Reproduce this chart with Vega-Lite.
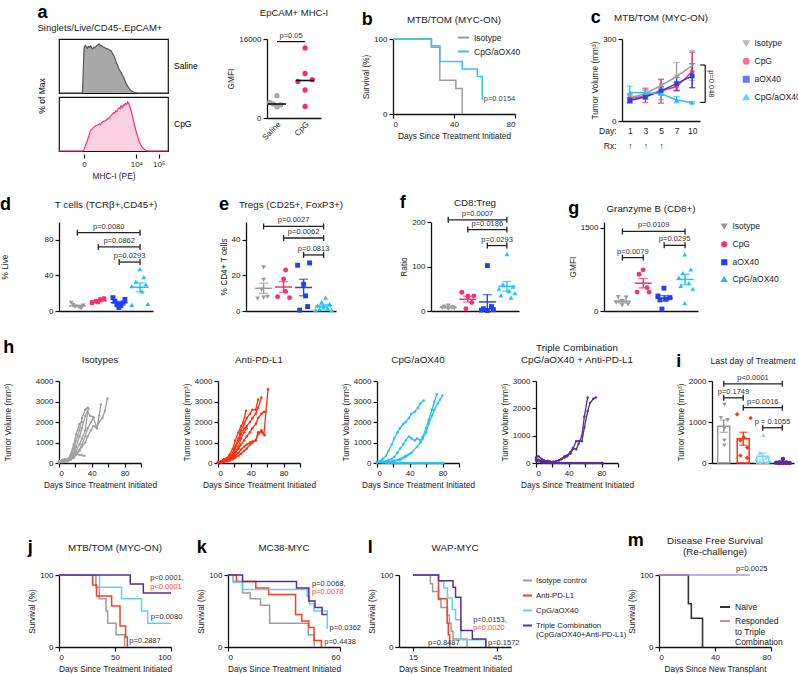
{
"$schema": "https://vega.github.io/schema/vega-lite/v6.json",
"background": "white",
"padding": {"left": 0, "top": 4, "right": 0, "bottom": 0},
"resolve": {"scale": {"color": "independent", "shape": "independent", "fill": "independent", "stroke": "independent", "xOffset": "independent"}, "legend": {"color": "independent", "shape": "independent", "fill": "independent", "stroke": "independent"}},
"config": {
  "font": "Liberation Sans",
  "numberFormat": "d",
  "view": {"stroke": null},
  "axis": {"grid": false, "labelFontSize": 8, "titleFontSize": 8.3, "titleFontWeight": "normal", "labelColor": "#222", "titleColor": "#222", "domainColor": "#111", "tickColor": "#111", "domainWidth": 1.3, "tickWidth": 1.2, "tickSize": 4, "labelPadding": 2, "titlePadding": 3, "labelFont": "Liberation Sans", "titleFont": "Liberation Sans"},
  "title": {"fontSize": 9.8, "fontWeight": "normal", "color": "#222", "offset": 12, "font": "Liberation Sans"},
  "legend": {"labelFontSize": 8.5, "labelColor": "#222", "labelFont": "Liberation Sans"},
  "header": {"labelFont": "Liberation Sans", "titleFont": "Liberation Sans"},
  "text": {"font": "Liberation Sans"}
},
"datasets": {
  "hist": [
    {"sample":"Saline","mhc":0,"pct":0},{"sample":"Saline","mhc":21.5,"pct":0},{"sample":"Saline","mhc":22.5,"pct":60},{"sample":"Saline","mhc":23,"pct":92},{"sample":"Saline","mhc":24,"pct":97},{"sample":"Saline","mhc":25,"pct":94},{"sample":"Saline","mhc":26,"pct":91},{"sample":"Saline","mhc":27,"pct":95},{"sample":"Saline","mhc":28,"pct":93},{"sample":"Saline","mhc":29,"pct":96},{"sample":"Saline","mhc":30,"pct":92},{"sample":"Saline","mhc":31,"pct":90},{"sample":"Saline","mhc":32,"pct":93},{"sample":"Saline","mhc":33,"pct":92},{"sample":"Saline","mhc":34,"pct":95},{"sample":"Saline","mhc":35,"pct":97},{"sample":"Saline","mhc":36,"pct":99},{"sample":"Saline","mhc":37,"pct":100},{"sample":"Saline","mhc":38,"pct":96},{"sample":"Saline","mhc":39,"pct":97},{"sample":"Saline","mhc":40,"pct":94},{"sample":"Saline","mhc":41.5,"pct":93},{"sample":"Saline","mhc":43,"pct":91},{"sample":"Saline","mhc":44.5,"pct":90},{"sample":"Saline","mhc":46,"pct":88},{"sample":"Saline","mhc":47.7,"pct":86},{"sample":"Saline","mhc":49,"pct":81},{"sample":"Saline","mhc":50.8,"pct":74},{"sample":"Saline","mhc":52,"pct":66},{"sample":"Saline","mhc":53.8,"pct":56},{"sample":"Saline","mhc":55,"pct":49},{"sample":"Saline","mhc":56.9,"pct":42},{"sample":"Saline","mhc":58.5,"pct":35},{"sample":"Saline","mhc":60,"pct":28},{"sample":"Saline","mhc":61.5,"pct":20},{"sample":"Saline","mhc":63,"pct":14},{"sample":"Saline","mhc":64.5,"pct":9},{"sample":"Saline","mhc":66,"pct":5},{"sample":"Saline","mhc":67.5,"pct":3},{"sample":"Saline","mhc":69,"pct":1.5},{"sample":"Saline","mhc":72,"pct":0},{"sample":"Saline","mhc":100,"pct":0},
    {"sample":"CpG","mhc":0,"pct":0},{"sample":"CpG","mhc":22,"pct":0},{"sample":"CpG","mhc":23,"pct":3},{"sample":"CpG","mhc":24,"pct":10},{"sample":"CpG","mhc":25,"pct":16},{"sample":"CpG","mhc":26,"pct":21},{"sample":"CpG","mhc":27,"pct":28},{"sample":"CpG","mhc":28,"pct":36},{"sample":"CpG","mhc":29,"pct":42},{"sample":"CpG","mhc":30,"pct":44},{"sample":"CpG","mhc":31,"pct":46},{"sample":"CpG","mhc":32,"pct":49},{"sample":"CpG","mhc":33,"pct":50},{"sample":"CpG","mhc":34,"pct":52},{"sample":"CpG","mhc":35.4,"pct":53},{"sample":"CpG","mhc":37,"pct":55},{"sample":"CpG","mhc":38,"pct":54},{"sample":"CpG","mhc":39,"pct":57},{"sample":"CpG","mhc":40,"pct":59},{"sample":"CpG","mhc":41.5,"pct":61},{"sample":"CpG","mhc":43,"pct":62},{"sample":"CpG","mhc":44,"pct":65},{"sample":"CpG","mhc":45,"pct":66},{"sample":"CpG","mhc":46,"pct":68},{"sample":"CpG","mhc":47.7,"pct":72},{"sample":"CpG","mhc":49,"pct":75},{"sample":"CpG","mhc":50,"pct":78},{"sample":"CpG","mhc":51,"pct":77},{"sample":"CpG","mhc":52,"pct":82},{"sample":"CpG","mhc":53,"pct":80},{"sample":"CpG","mhc":53.8,"pct":84},{"sample":"CpG","mhc":55,"pct":88},{"sample":"CpG","mhc":56,"pct":86},{"sample":"CpG","mhc":56.9,"pct":92},{"sample":"CpG","mhc":58,"pct":89},{"sample":"CpG","mhc":59,"pct":94},{"sample":"CpG","mhc":60,"pct":93},{"sample":"CpG","mhc":61,"pct":97},{"sample":"CpG","mhc":62,"pct":95},{"sample":"CpG","mhc":63,"pct":100},{"sample":"CpG","mhc":64,"pct":97},{"sample":"CpG","mhc":65,"pct":91},{"sample":"CpG","mhc":66,"pct":83},{"sample":"CpG","mhc":67.5,"pct":70},{"sample":"CpG","mhc":69,"pct":55},{"sample":"CpG","mhc":70.5,"pct":42},{"sample":"CpG","mhc":72.3,"pct":28},{"sample":"CpG","mhc":73.8,"pct":18},{"sample":"CpG","mhc":75.4,"pct":11},{"sample":"CpG","mhc":77,"pct":6},{"sample":"CpG","mhc":78.5,"pct":3},{"sample":"CpG","mhc":80,"pct":1},{"sample":"CpG","mhc":81.5,"pct":0},{"sample":"CpG","mhc":100,"pct":0}
  ],
  "mhc": [
    {"group":"Saline","gmfi":1790,"rep":3},{"group":"Saline","gmfi":1250,"rep":1},{"group":"Saline","gmfi":1120,"rep":2},{"group":"Saline","gmfi":1050,"rep":4},{"group":"Saline","gmfi":900,"rep":3},
    {"group":"CpG","gmfi":14300,"rep":3},{"group":"CpG","gmfi":3570,"rep":3},{"group":"CpG","gmfi":3070,"rep":5},{"group":"CpG","gmfi":2930,"rep":1},{"group":"CpG","gmfi":2240,"rep":3},{"group":"CpG","gmfi":930,"rep":3}
  ],
  "surv": [
    {"panel":"b","group":"Isotype","day":0,"surv":100},{"panel":"b","group":"Isotype","day":25.2,"surv":89},{"panel":"b","group":"Isotype","day":30.7,"surv":45},{"panel":"b","group":"Isotype","day":41.2,"surv":34},{"panel":"b","group":"Isotype","day":45.4,"surv":0},
    {"panel":"b","group":"CpG/aOX40","day":0,"surv":100},{"panel":"b","group":"CpG/aOX40","day":25.2,"surv":91},{"panel":"b","group":"CpG/aOX40","day":30.7,"surv":70},{"panel":"b","group":"CpG/aOX40","day":45.4,"surv":60},{"panel":"b","group":"CpG/aOX40","day":55.3,"surv":50},{"panel":"b","group":"CpG/aOX40","day":58.5,"surv":20},{"panel":"b","group":"CpG/aOX40","day":59.3,"surv":20},
    {"panel":"j","group":"Isotype control","day":0,"surv":100},{"panel":"j","group":"Isotype control","day":33,"surv":83},{"panel":"j","group":"Isotype control","day":36,"surv":67},{"panel":"j","group":"Isotype control","day":42,"surv":50},{"panel":"j","group":"Isotype control","day":43.5,"surv":33},{"panel":"j","group":"Isotype control","day":51,"surv":17},{"panel":"j","group":"Isotype control","day":58.6,"surv":0},
    {"panel":"j","group":"Anti-PD-L1","day":0,"surv":100},{"panel":"j","group":"Anti-PD-L1","day":30,"surv":86},{"panel":"j","group":"Anti-PD-L1","day":33.5,"surv":71},{"panel":"j","group":"Anti-PD-L1","day":47,"surv":57},{"panel":"j","group":"Anti-PD-L1","day":54.5,"surv":29},{"panel":"j","group":"Anti-PD-L1","day":59.5,"surv":14},{"panel":"j","group":"Anti-PD-L1","day":61,"surv":0},
    {"panel":"j","group":"CpG/aOX40","day":0,"surv":100},{"panel":"j","group":"CpG/aOX40","day":36.2,"surv":83},{"panel":"j","group":"CpG/aOX40","day":55.9,"surv":67},{"panel":"j","group":"CpG/aOX40","day":73.7,"surv":50},{"panel":"j","group":"CpG/aOX40","day":79.2,"surv":33},{"panel":"j","group":"CpG/aOX40","day":100,"surv":33},
    {"panel":"j","group":"Triple","day":0,"surv":100},{"panel":"j","group":"Triple","day":63.6,"surv":87.5},{"panel":"j","group":"Triple","day":75.3,"surv":75},{"panel":"j","group":"Triple","day":100,"surv":75},
    {"panel":"k","group":"Isotype control","day":0,"surv":100},{"panel":"k","group":"Isotype control","day":2.8,"surv":91},{"panel":"k","group":"Isotype control","day":7.8,"surv":75},{"panel":"k","group":"Isotype control","day":11.9,"surv":67},{"panel":"k","group":"Isotype control","day":17.4,"surv":58},{"panel":"k","group":"Isotype control","day":22.3,"surv":33},{"panel":"k","group":"Isotype control","day":43,"surv":17},{"panel":"k","group":"Isotype control","day":46.2,"surv":0},
    {"panel":"k","group":"Anti-PD-L1","day":0,"surv":100},{"panel":"k","group":"Anti-PD-L1","day":4.5,"surv":91},{"panel":"k","group":"Anti-PD-L1","day":14.9,"surv":82},{"panel":"k","group":"Anti-PD-L1","day":21.8,"surv":73},{"panel":"k","group":"Anti-PD-L1","day":36.2,"surv":45},{"panel":"k","group":"Anti-PD-L1","day":39.5,"surv":36},{"panel":"k","group":"Anti-PD-L1","day":43.3,"surv":27},{"panel":"k","group":"Anti-PD-L1","day":46.1,"surv":9},{"panel":"k","group":"Anti-PD-L1","day":50,"surv":0},
    {"panel":"k","group":"CpG/aOX40","day":0,"surv":100},{"panel":"k","group":"CpG/aOX40","day":2.8,"surv":90},{"panel":"k","group":"CpG/aOX40","day":7.8,"surv":80},{"panel":"k","group":"CpG/aOX40","day":42.5,"surv":70},{"panel":"k","group":"CpG/aOX40","day":43.6,"surv":60},{"panel":"k","group":"CpG/aOX40","day":46.1,"surv":50},{"panel":"k","group":"CpG/aOX40","day":53.2,"surv":25},
    {"panel":"k","group":"Triple","day":0,"surv":100},{"panel":"k","group":"Triple","day":7.8,"surv":91},{"panel":"k","group":"Triple","day":36.7,"surv":82},{"panel":"k","group":"Triple","day":43.3,"surv":64},{"panel":"k","group":"Triple","day":46.6,"surv":55},{"panel":"k","group":"Triple","day":50.4,"surv":45},{"panel":"k","group":"Triple","day":53,"surv":45},
    {"panel":"l","group":"Isotype control","day":15,"surv":100},{"panel":"l","group":"Isotype control","day":21.2,"surv":88},{"panel":"l","group":"Isotype control","day":22,"surv":77},{"panel":"l","group":"Isotype control","day":24.1,"surv":66},{"panel":"l","group":"Isotype control","day":25,"surv":55},{"panel":"l","group":"Isotype control","day":27.3,"surv":44},{"panel":"l","group":"Isotype control","day":28,"surv":33},{"panel":"l","group":"Isotype control","day":28.6,"surv":22},{"panel":"l","group":"Isotype control","day":29.3,"surv":11},{"panel":"l","group":"Isotype control","day":34.3,"surv":0},
    {"panel":"l","group":"Anti-PD-L1","day":15,"surv":100},{"panel":"l","group":"Anti-PD-L1","day":24.1,"surv":67},{"panel":"l","group":"Anti-PD-L1","day":27.2,"surv":33},{"panel":"l","group":"Anti-PD-L1","day":27.6,"surv":17},{"panel":"l","group":"Anti-PD-L1","day":28.1,"surv":0},
    {"panel":"l","group":"CpG/aOX40","day":15,"surv":100},{"panel":"l","group":"CpG/aOX40","day":24.2,"surv":91},{"panel":"l","group":"CpG/aOX40","day":26,"surv":82},{"panel":"l","group":"CpG/aOX40","day":27.3,"surv":68},{"panel":"l","group":"CpG/aOX40","day":29,"surv":52},{"panel":"l","group":"CpG/aOX40","day":30.2,"surv":38},{"panel":"l","group":"CpG/aOX40","day":32.1,"surv":10},{"panel":"l","group":"CpG/aOX40","day":41,"surv":0},
    {"panel":"l","group":"Triple","day":15,"surv":100},{"panel":"l","group":"Triple","day":24.1,"surv":92},{"panel":"l","group":"Triple","day":29.3,"surv":83},{"panel":"l","group":"Triple","day":30.2,"surv":69},{"panel":"l","group":"Triple","day":32.1,"surv":23},{"panel":"l","group":"Triple","day":36.2,"surv":11},{"panel":"l","group":"Triple","day":41,"surv":0},
    {"panel":"m","group":"Naïve","day":0,"surv":100},{"panel":"m","group":"Naïve","day":21,"surv":60},{"panel":"m","group":"Naïve","day":23.1,"surv":40},{"panel":"m","group":"Naïve","day":31.1,"surv":0},
    {"panel":"m","group":"Responded","day":0,"surv":100},{"panel":"m","group":"Responded","day":65,"surv":100}
  ],
  "ptext": [
    {"panel":"b","day":59.5,"surv":20,"label":"p=0.0154","vs":"Isotype"},
    {"panel":"j","day":81.5,"surv":96,"label":"p<0.0001,","vs":"Isotype"},{"panel":"j","day":81.5,"surv":84,"label":"p<0.0001","vs":"Anti-PD-L1"},{"panel":"j","day":82,"surv":41,"label":"p=0.0080","vs":"Isotype"},{"panel":"j","day":62.7,"surv":8,"label":"p=0.2887","vs":"Isotype"},
    {"panel":"k","day":45,"surv":88,"label":"p=0.0068,","vs":"Isotype"},{"panel":"k","day":45,"surv":77,"label":"p=0.0078","vs":"Anti-PD-L1"},{"panel":"k","day":54.4,"surv":27,"label":"p=0.0362","vs":"Isotype"},{"panel":"k","day":51.6,"surv":7,"label":"p=0.4438","vs":"Isotype"},
    {"panel":"l","day":36.5,"surv":37,"label":"p=0.0153,","vs":"Isotype"},{"panel":"l","day":36.5,"surv":26,"label":"p=0.0020","vs":"Anti-PD-L1"},{"panel":"l","day":41.8,"surv":6,"label":"p=0.1572","vs":"Isotype"},{"panel":"l","day":20.4,"surv":6,"label":"p=0.8487","vs":"Isotype"},
    {"panel":"m","day":55,"surv":108,"label":"p=0.0025","vs":"Isotype"}
  ],
  "tv": [
    {"group":"Isotype","day":1,"mean":85,"lo":70,"hi":100},{"group":"Isotype","day":3,"mean":100,"lo":90,"hi":112},{"group":"Isotype","day":5,"mean":130,"lo":110,"hi":153},{"group":"Isotype","day":7,"mean":162,"lo":112,"hi":214},{"group":"Isotype","day":10,"mean":203,"lo":148,"hi":257},
    {"group":"CpG","day":1,"mean":80,"lo":65,"hi":95},{"group":"CpG","day":3,"mean":93,"lo":68,"hi":120},{"group":"CpG","day":5,"mean":110,"lo":65,"hi":152},{"group":"CpG","day":7,"mean":126,"lo":110,"hi":140},{"group":"CpG","day":10,"mean":180,"lo":122,"hi":251},
    {"group":"aOX40","day":1,"mean":75,"lo":68,"hi":85},{"group":"aOX40","day":3,"mean":88,"lo":80,"hi":97},{"group":"aOX40","day":5,"mean":110,"lo":95,"hi":125},{"group":"aOX40","day":7,"mean":137,"lo":112,"hi":160},{"group":"aOX40","day":10,"mean":165,"lo":122,"hi":210},
    {"group":"CpG/aOX40","day":1,"mean":104,"lo":85,"hi":128},{"group":"CpG/aOX40","day":3,"mean":103,"lo":92,"hi":115},{"group":"CpG/aOX40","day":5,"mean":100,"lo":78,"hi":120},{"group":"CpG/aOX40","day":7,"mean":77,"lo":67,"hi":89},{"group":"CpG/aOX40","day":10,"mean":67,"lo":64,"hi":71}
  ],
  "dots": [
    {"panel":"d","group":"Isotype","value":9,"rep":2},{"panel":"d","group":"Isotype","value":7,"rep":3},{"panel":"d","group":"Isotype","value":5,"rep":4},{"panel":"d","group":"Isotype","value":4,"rep":6},{"panel":"d","group":"Isotype","value":3,"rep":7},{"panel":"d","group":"Isotype","value":6,"rep":8},
    {"panel":"d","group":"CpG","value":14,"rep":8},{"panel":"d","group":"CpG","value":13,"rep":6},{"panel":"d","group":"CpG","value":10,"rep":5},{"panel":"d","group":"CpG","value":9,"rep":2},{"panel":"d","group":"CpG","value":11,"rep":4},
    {"panel":"d","group":"aOX40","value":15,"rep":2},{"panel":"d","group":"aOX40","value":13,"rep":8},{"panel":"d","group":"aOX40","value":11,"rep":3},{"panel":"d","group":"aOX40","value":9,"rep":7},{"panel":"d","group":"aOX40","value":7,"rep":4},{"panel":"d","group":"aOX40","value":6,"rep":6},{"panel":"d","group":"aOX40","value":4,"rep":5},
    {"panel":"d","group":"CpG/aOX40","value":47,"rep":5},{"panel":"d","group":"CpG/aOX40","value":38,"rep":7},{"panel":"d","group":"CpG/aOX40","value":33,"rep":3},{"panel":"d","group":"CpG/aOX40","value":30,"rep":8},{"panel":"d","group":"CpG/aOX40","value":28,"rep":1},{"panel":"d","group":"CpG/aOX40","value":22,"rep":6},{"panel":"d","group":"CpG/aOX40","value":8,"rep":9},{"panel":"d","group":"CpG/aOX40","value":7,"rep":1},
    {"panel":"e","group":"Isotype","value":24.5,"rep":5},{"panel":"e","group":"Isotype","value":17.5,"rep":5},{"panel":"e","group":"Isotype","value":12,"rep":4},{"panel":"e","group":"Isotype","value":8,"rep":7},{"panel":"e","group":"Isotype","value":7,"rep":2},{"panel":"e","group":"Isotype","value":7.5,"rep":5},
    {"panel":"e","group":"CpG","value":23,"rep":6},{"panel":"e","group":"CpG","value":18,"rep":5},{"panel":"e","group":"CpG","value":11,"rep":6},{"panel":"e","group":"CpG","value":8,"rep":2},{"panel":"e","group":"CpG","value":7.5,"rep":8},
    {"panel":"e","group":"aOX40","value":27,"rep":8},{"panel":"e","group":"aOX40","value":25.7,"rep":2},{"panel":"e","group":"aOX40","value":15,"rep":5},{"panel":"e","group":"aOX40","value":8.5,"rep":6},{"panel":"e","group":"aOX40","value":2.5,"rep":7},{"panel":"e","group":"aOX40","value":0.5,"rep":3},
    {"panel":"e","group":"CpG/aOX40","value":7.5,"rep":6},{"panel":"e","group":"CpG/aOX40","value":5,"rep":4},{"panel":"e","group":"CpG/aOX40","value":4,"rep":8},{"panel":"e","group":"CpG/aOX40","value":3,"rep":2},{"panel":"e","group":"CpG/aOX40","value":2,"rep":5},{"panel":"e","group":"CpG/aOX40","value":1.5,"rep":7},{"panel":"e","group":"CpG/aOX40","value":1,"rep":3},{"panel":"e","group":"CpG/aOX40","value":0.5,"rep":9},{"panel":"e","group":"CpG/aOX40","value":0.5,"rep":1},
    {"panel":"f","group":"Isotype","value":12,"rep":5},{"panel":"f","group":"Isotype","value":10,"rep":3},{"panel":"f","group":"Isotype","value":8,"rep":7},{"panel":"f","group":"Isotype","value":7,"rep":2},{"panel":"f","group":"Isotype","value":6,"rep":8},{"panel":"f","group":"Isotype","value":5,"rep":5},
    {"panel":"f","group":"CpG","value":42,"rep":2},{"panel":"f","group":"CpG","value":34,"rep":8},{"panel":"f","group":"CpG","value":33,"rep":5},{"panel":"f","group":"CpG","value":19,"rep":7},{"panel":"f","group":"CpG","value":5,"rep":4},
    {"panel":"f","group":"aOX40","value":102,"rep":5},{"panel":"f","group":"aOX40","value":10,"rep":7},{"panel":"f","group":"aOX40","value":5,"rep":3},{"panel":"f","group":"aOX40","value":3,"rep":8},{"panel":"f","group":"aOX40","value":2,"rep":2},{"panel":"f","group":"aOX40","value":1,"rep":5},
    {"panel":"f","group":"CpG/aOX40","value":128,"rep":5},{"panel":"f","group":"CpG/aOX40","value":60,"rep":3},{"panel":"f","group":"CpG/aOX40","value":55,"rep":8},{"panel":"f","group":"CpG/aOX40","value":50,"rep":1},{"panel":"f","group":"CpG/aOX40","value":45,"rep":6},{"panel":"f","group":"CpG/aOX40","value":40,"rep":9},{"panel":"f","group":"CpG/aOX40","value":35,"rep":2},{"panel":"f","group":"CpG/aOX40","value":30,"rep":7},
    {"panel":"g","group":"Isotype","value":250,"rep":3},{"panel":"g","group":"Isotype","value":240,"rep":7},{"panel":"g","group":"Isotype","value":180,"rep":5},{"panel":"g","group":"Isotype","value":150,"rep":2},{"panel":"g","group":"Isotype","value":120,"rep":8},{"panel":"g","group":"Isotype","value":100,"rep":5},
    {"panel":"g","group":"CpG","value":740,"rep":5},{"panel":"g","group":"CpG","value":660,"rep":3},{"panel":"g","group":"CpG","value":420,"rep":7},{"panel":"g","group":"CpG","value":340,"rep":2},{"panel":"g","group":"CpG","value":340,"rep":8},
    {"panel":"g","group":"aOX40","value":410,"rep":5},{"panel":"g","group":"aOX40","value":270,"rep":2},{"panel":"g","group":"aOX40","value":240,"rep":8},{"panel":"g","group":"aOX40","value":215,"rep":6},{"panel":"g","group":"aOX40","value":200,"rep":3},{"panel":"g","group":"aOX40","value":35,"rep":4},
    {"panel":"g","group":"CpG/aOX40","value":1020,"rep":5},{"panel":"g","group":"CpG/aOX40","value":750,"rep":8},{"panel":"g","group":"CpG/aOX40","value":680,"rep":4},{"panel":"g","group":"CpG/aOX40","value":600,"rep":2},{"panel":"g","group":"CpG/aOX40","value":500,"rep":7},{"panel":"g","group":"CpG/aOX40","value":450,"rep":3},{"panel":"g","group":"CpG/aOX40","value":400,"rep":9},{"panel":"g","group":"CpG/aOX40","value":140,"rep":5}
  ],
  "brackets": [
    {"panel":"d","from":"Isotype","to":"CpG/aOX40","mid":"m2","y":88,"label":"p=0.0080"},
    {"panel":"d","from":"CpG","to":"CpG/aOX40","mid":"aOX40","y":72,"label":"p=0.0862"},
    {"panel":"d","from":"aOX40","to":"CpG/aOX40","mid":"m3","y":55,"label":"p=0.0293"},
    {"panel":"e","from":"Isotype","to":"CpG/aOX40","mid":"m2","y":47.5,"label":"p=0.0027"},
    {"panel":"e","from":"CpG","to":"CpG/aOX40","mid":"aOX40","y":41,"label":"p=0.0062"},
    {"panel":"e","from":"aOX40","to":"CpG/aOX40","mid":"m3","y":31.5,"label":"p=0.0813"},
    {"panel":"f","from":"Isotype","to":"CpG/aOX40","mid":"m2","y":205,"label":"p=0.0007"},
    {"panel":"f","from":"CpG","to":"CpG/aOX40","mid":"aOX40","y":183,"label":"p=0.0186"},
    {"panel":"f","from":"aOX40","to":"CpG/aOX40","mid":"m3","y":147,"label":"p=0.0293"},
    {"panel":"g","from":"Isotype","to":"CpG/aOX40","mid":"m2","y":1430,"label":"p=0.0109"},
    {"panel":"g","from":"Isotype","to":"CpG","mid":"m1","y":960,"label":"p=0.0079"},
    {"panel":"g","from":"aOX40","to":"CpG/aOX40","mid":"m3","y":1180,"label":"p=0.0295"},
    {"panel":"i","from":"Isotype","to":"Triple","mid":"m2","y":1930,"label":"p<0.0001"},
    {"panel":"i","from":"Isotype","to":"Anti-PD-L1","mid":"m1","y":1590,"label":"p=0.1749"},
    {"panel":"i","from":"Anti-PD-L1","to":"Triple","mid":"CpG/aOX40","y":1350,"label":"p=0.0016"},
    {"panel":"i","from":"CpG/aOX40","to":"Triple","mid":"m3","y":860,"label":"p = 0.1055"}
  ],
  "last": [
    {"group":"Isotype","vol":1420,"rep":3},{"group":"Isotype","vol":1100,"rep":2},{"group":"Isotype","vol":1050,"rep":4},{"group":"Isotype","vol":840,"rep":3},{"group":"Isotype","vol":550,"rep":3},{"group":"Isotype","vol":430,"rep":3},
    {"group":"Anti-PD-L1","vol":1190,"rep":1},{"group":"Anti-PD-L1","vol":1100,"rep":5},{"group":"Anti-PD-L1","vol":620,"rep":3},{"group":"Anti-PD-L1","vol":550,"rep":2},{"group":"Anti-PD-L1","vol":380,"rep":4},{"group":"Anti-PD-L1","vol":180,"rep":2},{"group":"Anti-PD-L1","vol":120,"rep":4},
    {"group":"CpG/aOX40","vol":680,"rep":3},{"group":"CpG/aOX40","vol":250,"rep":2},{"group":"CpG/aOX40","vol":150,"rep":4},{"group":"CpG/aOX40","vol":100,"rep":1},{"group":"CpG/aOX40","vol":50,"rep":3},{"group":"CpG/aOX40","vol":40,"rep":5},{"group":"CpG/aOX40","vol":30,"rep":2},{"group":"CpG/aOX40","vol":20,"rep":4},
    {"group":"Triple","vol":100,"rep":3},{"group":"Triple","vol":20,"rep":2},{"group":"Triple","vol":10,"rep":4},{"group":"Triple","vol":5,"rep":1},{"group":"Triple","vol":0,"rep":5},{"group":"Triple","vol":0,"rep":2},{"group":"Triple","vol":0,"rep":3},{"group":"Triple","vol":0,"rep":4}
  ],
  "spag": [
    {"group":"Isotypes","mouse":"I1","day":0,"vol":50},{"group":"Isotypes","mouse":"I1","day":4,"vol":80},{"group":"Isotypes","mouse":"I1","day":7,"vol":120},{"group":"Isotypes","mouse":"I1","day":11,"vol":200},{"group":"Isotypes","mouse":"I1","day":14,"vol":350},{"group":"Isotypes","mouse":"I1","day":18,"vol":700},{"group":"Isotypes","mouse":"I1","day":21,"vol":1100},{"group":"Isotypes","mouse":"I1","day":25,"vol":1600},{"group":"Isotypes","mouse":"I1","day":28,"vol":2200},{"group":"Isotypes","mouse":"I1","day":32,"vol":2600},{"group":"Isotypes","mouse":"I1","day":35,"vol":2700},
    {"group":"Isotypes","mouse":"I2","day":0,"vol":30},{"group":"Isotypes","mouse":"I2","day":4,"vol":60},{"group":"Isotypes","mouse":"I2","day":7,"vol":100},{"group":"Isotypes","mouse":"I2","day":11,"vol":150},{"group":"Isotypes","mouse":"I2","day":14,"vol":250},{"group":"Isotypes","mouse":"I2","day":18,"vol":500},{"group":"Isotypes","mouse":"I2","day":21,"vol":800},{"group":"Isotypes","mouse":"I2","day":25,"vol":1300},{"group":"Isotypes","mouse":"I2","day":28,"vol":1700},{"group":"Isotypes","mouse":"I2","day":32,"vol":2300},{"group":"Isotypes","mouse":"I2","day":36,"vol":2650},
    {"group":"Isotypes","mouse":"I3","day":0,"vol":60},{"group":"Isotypes","mouse":"I3","day":4,"vol":100},{"group":"Isotypes","mouse":"I3","day":7,"vol":150},{"group":"Isotypes","mouse":"I3","day":11,"vol":180},{"group":"Isotypes","mouse":"I3","day":14,"vol":300},{"group":"Isotypes","mouse":"I3","day":18,"vol":450},{"group":"Isotypes","mouse":"I3","day":21,"vol":600},{"group":"Isotypes","mouse":"I3","day":25,"vol":900},{"group":"Isotypes","mouse":"I3","day":28,"vol":1200},{"group":"Isotypes","mouse":"I3","day":32,"vol":1600},{"group":"Isotypes","mouse":"I3","day":35,"vol":2500},{"group":"Isotypes","mouse":"I3","day":38,"vol":2300},{"group":"Isotypes","mouse":"I3","day":42,"vol":2250},
    {"group":"Isotypes","mouse":"I4","day":0,"vol":40},{"group":"Isotypes","mouse":"I4","day":4,"vol":70},{"group":"Isotypes","mouse":"I4","day":7,"vol":90},{"group":"Isotypes","mouse":"I4","day":11,"vol":130},{"group":"Isotypes","mouse":"I4","day":14,"vol":200},{"group":"Isotypes","mouse":"I4","day":18,"vol":300},{"group":"Isotypes","mouse":"I4","day":21,"vol":450},{"group":"Isotypes","mouse":"I4","day":25,"vol":650},{"group":"Isotypes","mouse":"I4","day":28,"vol":900},{"group":"Isotypes","mouse":"I4","day":32,"vol":1300},{"group":"Isotypes","mouse":"I4","day":35,"vol":1700},{"group":"Isotypes","mouse":"I4","day":39,"vol":2000},{"group":"Isotypes","mouse":"I4","day":42,"vol":2200},{"group":"Isotypes","mouse":"I4","day":46,"vol":1700},{"group":"Isotypes","mouse":"I4","day":49,"vol":2300},{"group":"Isotypes","mouse":"I4","day":51,"vol":2850},
    {"group":"Isotypes","mouse":"I5","day":0,"vol":20},{"group":"Isotypes","mouse":"I5","day":4,"vol":40},{"group":"Isotypes","mouse":"I5","day":7,"vol":60},{"group":"Isotypes","mouse":"I5","day":11,"vol":100},{"group":"Isotypes","mouse":"I5","day":14,"vol":150},{"group":"Isotypes","mouse":"I5","day":18,"vol":250},{"group":"Isotypes","mouse":"I5","day":21,"vol":400},{"group":"Isotypes","mouse":"I5","day":25,"vol":600},{"group":"Isotypes","mouse":"I5","day":28,"vol":800},{"group":"Isotypes","mouse":"I5","day":32,"vol":1000},{"group":"Isotypes","mouse":"I5","day":35,"vol":1300},{"group":"Isotypes","mouse":"I5","day":39,"vol":1600},{"group":"Isotypes","mouse":"I5","day":42,"vol":1800},{"group":"Isotypes","mouse":"I5","day":46,"vol":1750},{"group":"Isotypes","mouse":"I5","day":49,"vol":2000},{"group":"Isotypes","mouse":"I5","day":53,"vol":2200},{"group":"Isotypes","mouse":"I5","day":56,"vol":2550},{"group":"Isotypes","mouse":"I5","day":59,"vol":3150},
    {"group":"Isotypes","mouse":"I6","day":0,"vol":80},{"group":"Isotypes","mouse":"I6","day":4,"vol":150},{"group":"Isotypes","mouse":"I6","day":7,"vol":200},{"group":"Isotypes","mouse":"I6","day":11,"vol":180},{"group":"Isotypes","mouse":"I6","day":14,"vol":250},{"group":"Isotypes","mouse":"I6","day":18,"vol":350},{"group":"Isotypes","mouse":"I6","day":21,"vol":450},{"group":"Isotypes","mouse":"I6","day":25,"vol":400},{"group":"Isotypes","mouse":"I6","day":28,"vol":380},{"group":"Isotypes","mouse":"I6","day":31,"vol":350},
    {"group":"Isotypes","mouse":"I7","day":0,"vol":100},{"group":"Isotypes","mouse":"I7","day":4,"vol":120},{"group":"Isotypes","mouse":"I7","day":7,"vol":130},{"group":"Isotypes","mouse":"I7","day":11,"vol":160},{"group":"Isotypes","mouse":"I7","day":14,"vol":400},{"group":"Isotypes","mouse":"I7","day":18,"vol":900},{"group":"Isotypes","mouse":"I7","day":21,"vol":1400},{"group":"Isotypes","mouse":"I7","day":25,"vol":1900},{"group":"Isotypes","mouse":"I7","day":28,"vol":2000},
    {"group":"Anti-PD-L1","mouse":"R1","day":0,"vol":50},{"group":"Anti-PD-L1","mouse":"R1","day":4,"vol":100},{"group":"Anti-PD-L1","mouse":"R1","day":7,"vol":180},{"group":"Anti-PD-L1","mouse":"R1","day":11,"vol":250},{"group":"Anti-PD-L1","mouse":"R1","day":14,"vol":400},{"group":"Anti-PD-L1","mouse":"R1","day":18,"vol":700},{"group":"Anti-PD-L1","mouse":"R1","day":21,"vol":1100},{"group":"Anti-PD-L1","mouse":"R1","day":25,"vol":1500},{"group":"Anti-PD-L1","mouse":"R1","day":28,"vol":1800},{"group":"Anti-PD-L1","mouse":"R1","day":31,"vol":2000},{"group":"Anti-PD-L1","mouse":"R1","day":34,"vol":2550},
    {"group":"Anti-PD-L1","mouse":"R2","day":0,"vol":40},{"group":"Anti-PD-L1","mouse":"R2","day":4,"vol":80},{"group":"Anti-PD-L1","mouse":"R2","day":7,"vol":120},{"group":"Anti-PD-L1","mouse":"R2","day":11,"vol":200},{"group":"Anti-PD-L1","mouse":"R2","day":14,"vol":300},{"group":"Anti-PD-L1","mouse":"R2","day":18,"vol":500},{"group":"Anti-PD-L1","mouse":"R2","day":21,"vol":800},{"group":"Anti-PD-L1","mouse":"R2","day":25,"vol":1200},{"group":"Anti-PD-L1","mouse":"R2","day":28,"vol":1600},{"group":"Anti-PD-L1","mouse":"R2","day":32,"vol":1900},{"group":"Anti-PD-L1","mouse":"R2","day":35,"vol":2200},{"group":"Anti-PD-L1","mouse":"R2","day":39,"vol":2400},{"group":"Anti-PD-L1","mouse":"R2","day":42,"vol":2600},{"group":"Anti-PD-L1","mouse":"R2","day":46,"vol":2600},{"group":"Anti-PD-L1","mouse":"R2","day":49,"vol":3100},
    {"group":"Anti-PD-L1","mouse":"R3","day":0,"vol":30},{"group":"Anti-PD-L1","mouse":"R3","day":4,"vol":70},{"group":"Anti-PD-L1","mouse":"R3","day":7,"vol":100},{"group":"Anti-PD-L1","mouse":"R3","day":11,"vol":150},{"group":"Anti-PD-L1","mouse":"R3","day":14,"vol":250},{"group":"Anti-PD-L1","mouse":"R3","day":18,"vol":400},{"group":"Anti-PD-L1","mouse":"R3","day":21,"vol":700},{"group":"Anti-PD-L1","mouse":"R3","day":25,"vol":1100},{"group":"Anti-PD-L1","mouse":"R3","day":28,"vol":1400},{"group":"Anti-PD-L1","mouse":"R3","day":32,"vol":1700},{"group":"Anti-PD-L1","mouse":"R3","day":35,"vol":1800},{"group":"Anti-PD-L1","mouse":"R3","day":39,"vol":2000},{"group":"Anti-PD-L1","mouse":"R3","day":42,"vol":2200},{"group":"Anti-PD-L1","mouse":"R3","day":46,"vol":2400},{"group":"Anti-PD-L1","mouse":"R3","day":49,"vol":2700},{"group":"Anti-PD-L1","mouse":"R3","day":53,"vol":3200},
    {"group":"Anti-PD-L1","mouse":"R4","day":0,"vol":50},{"group":"Anti-PD-L1","mouse":"R4","day":4,"vol":80},{"group":"Anti-PD-L1","mouse":"R4","day":7,"vol":120},{"group":"Anti-PD-L1","mouse":"R4","day":11,"vol":180},{"group":"Anti-PD-L1","mouse":"R4","day":14,"vol":250},{"group":"Anti-PD-L1","mouse":"R4","day":18,"vol":350},{"group":"Anti-PD-L1","mouse":"R4","day":21,"vol":500},{"group":"Anti-PD-L1","mouse":"R4","day":25,"vol":700},{"group":"Anti-PD-L1","mouse":"R4","day":28,"vol":900},{"group":"Anti-PD-L1","mouse":"R4","day":32,"vol":1100},{"group":"Anti-PD-L1","mouse":"R4","day":35,"vol":1300},{"group":"Anti-PD-L1","mouse":"R4","day":39,"vol":1500},{"group":"Anti-PD-L1","mouse":"R4","day":42,"vol":1700},{"group":"Anti-PD-L1","mouse":"R4","day":46,"vol":1900},{"group":"Anti-PD-L1","mouse":"R4","day":49,"vol":2200},{"group":"Anti-PD-L1","mouse":"R4","day":53,"vol":2400},{"group":"Anti-PD-L1","mouse":"R4","day":56,"vol":2500},{"group":"Anti-PD-L1","mouse":"R4","day":58,"vol":2500},
    {"group":"Anti-PD-L1","mouse":"R5","day":0,"vol":20},{"group":"Anti-PD-L1","mouse":"R5","day":4,"vol":50},{"group":"Anti-PD-L1","mouse":"R5","day":7,"vol":80},{"group":"Anti-PD-L1","mouse":"R5","day":11,"vol":120},{"group":"Anti-PD-L1","mouse":"R5","day":14,"vol":180},{"group":"Anti-PD-L1","mouse":"R5","day":18,"vol":250},{"group":"Anti-PD-L1","mouse":"R5","day":21,"vol":350},{"group":"Anti-PD-L1","mouse":"R5","day":25,"vol":500},{"group":"Anti-PD-L1","mouse":"R5","day":28,"vol":650},{"group":"Anti-PD-L1","mouse":"R5","day":32,"vol":800},{"group":"Anti-PD-L1","mouse":"R5","day":35,"vol":900},{"group":"Anti-PD-L1","mouse":"R5","day":39,"vol":1000},{"group":"Anti-PD-L1","mouse":"R5","day":42,"vol":1050},{"group":"Anti-PD-L1","mouse":"R5","day":46,"vol":1100},{"group":"Anti-PD-L1","mouse":"R5","day":49,"vol":1400},{"group":"Anti-PD-L1","mouse":"R5","day":53,"vol":1600},{"group":"Anti-PD-L1","mouse":"R5","day":56,"vol":1400},{"group":"Anti-PD-L1","mouse":"R5","day":61,"vol":3600},
    {"group":"Anti-PD-L1","mouse":"R6","day":0,"vol":30},{"group":"Anti-PD-L1","mouse":"R6","day":4,"vol":40},{"group":"Anti-PD-L1","mouse":"R6","day":7,"vol":60},{"group":"Anti-PD-L1","mouse":"R6","day":11,"vol":80},{"group":"Anti-PD-L1","mouse":"R6","day":14,"vol":120},{"group":"Anti-PD-L1","mouse":"R6","day":18,"vol":180},{"group":"Anti-PD-L1","mouse":"R6","day":21,"vol":250},{"group":"Anti-PD-L1","mouse":"R6","day":25,"vol":350},{"group":"Anti-PD-L1","mouse":"R6","day":28,"vol":450},{"group":"Anti-PD-L1","mouse":"R6","day":32,"vol":600},{"group":"Anti-PD-L1","mouse":"R6","day":35,"vol":700},{"group":"Anti-PD-L1","mouse":"R6","day":39,"vol":900},{"group":"Anti-PD-L1","mouse":"R6","day":42,"vol":1000},{"group":"Anti-PD-L1","mouse":"R6","day":46,"vol":1100},{"group":"Anti-PD-L1","mouse":"R6","day":49,"vol":1500},{"group":"Anti-PD-L1","mouse":"R6","day":53,"vol":1500},{"group":"Anti-PD-L1","mouse":"R6","day":57,"vol":1350},
    {"group":"Anti-PD-L1","mouse":"R7","day":0,"vol":10},{"group":"Anti-PD-L1","mouse":"R7","day":4,"vol":30},{"group":"Anti-PD-L1","mouse":"R7","day":7,"vol":60},{"group":"Anti-PD-L1","mouse":"R7","day":11,"vol":100},{"group":"Anti-PD-L1","mouse":"R7","day":14,"vol":200},{"group":"Anti-PD-L1","mouse":"R7","day":18,"vol":300},{"group":"Anti-PD-L1","mouse":"R7","day":21,"vol":500},{"group":"Anti-PD-L1","mouse":"R7","day":25,"vol":800},{"group":"Anti-PD-L1","mouse":"R7","day":28,"vol":1200},{"group":"Anti-PD-L1","mouse":"R7","day":32,"vol":1500},{"group":"Anti-PD-L1","mouse":"R7","day":35,"vol":1700},
    {"group":"CpG/aOX40","mouse":"C1","day":0,"vol":50},{"group":"CpG/aOX40","mouse":"C1","day":4,"vol":100},{"group":"CpG/aOX40","mouse":"C1","day":7,"vol":200},{"group":"CpG/aOX40","mouse":"C1","day":11,"vol":350},{"group":"CpG/aOX40","mouse":"C1","day":14,"vol":600},{"group":"CpG/aOX40","mouse":"C1","day":18,"vol":900},{"group":"CpG/aOX40","mouse":"C1","day":21,"vol":1200},{"group":"CpG/aOX40","mouse":"C1","day":25,"vol":1500},{"group":"CpG/aOX40","mouse":"C1","day":28,"vol":1700},{"group":"CpG/aOX40","mouse":"C1","day":32,"vol":1900},{"group":"CpG/aOX40","mouse":"C1","day":35,"vol":2000},{"group":"CpG/aOX40","mouse":"C1","day":39,"vol":2200},{"group":"CpG/aOX40","mouse":"C1","day":42,"vol":2400},{"group":"CpG/aOX40","mouse":"C1","day":46,"vol":2500},{"group":"CpG/aOX40","mouse":"C1","day":50,"vol":2700},{"group":"CpG/aOX40","mouse":"C1","day":53,"vol":2900},{"group":"CpG/aOX40","mouse":"C1","day":57,"vol":3050},
    {"group":"CpG/aOX40","mouse":"C2","day":0,"vol":40},{"group":"CpG/aOX40","mouse":"C2","day":4,"vol":60},{"group":"CpG/aOX40","mouse":"C2","day":7,"vol":80},{"group":"CpG/aOX40","mouse":"C2","day":11,"vol":100},{"group":"CpG/aOX40","mouse":"C2","day":14,"vol":150},{"group":"CpG/aOX40","mouse":"C2","day":18,"vol":200},{"group":"CpG/aOX40","mouse":"C2","day":21,"vol":300},{"group":"CpG/aOX40","mouse":"C2","day":25,"vol":500},{"group":"CpG/aOX40","mouse":"C2","day":28,"vol":700},{"group":"CpG/aOX40","mouse":"C2","day":32,"vol":900},{"group":"CpG/aOX40","mouse":"C2","day":35,"vol":1100},{"group":"CpG/aOX40","mouse":"C2","day":39,"vol":1300},{"group":"CpG/aOX40","mouse":"C2","day":42,"vol":1200},{"group":"CpG/aOX40","mouse":"C2","day":46,"vol":1100},{"group":"CpG/aOX40","mouse":"C2","day":49,"vol":1200},{"group":"CpG/aOX40","mouse":"C2","day":53,"vol":1100},{"group":"CpG/aOX40","mouse":"C2","day":56,"vol":1300},{"group":"CpG/aOX40","mouse":"C2","day":60,"vol":1700},{"group":"CpG/aOX40","mouse":"C2","day":63,"vol":2100},{"group":"CpG/aOX40","mouse":"C2","day":67,"vol":2600},{"group":"CpG/aOX40","mouse":"C2","day":70,"vol":3000},{"group":"CpG/aOX40","mouse":"C2","day":73,"vol":3350},
    {"group":"CpG/aOX40","mouse":"C3","day":0,"vol":30},{"group":"CpG/aOX40","mouse":"C3","day":7,"vol":40},{"group":"CpG/aOX40","mouse":"C3","day":14,"vol":50},{"group":"CpG/aOX40","mouse":"C3","day":21,"vol":80},{"group":"CpG/aOX40","mouse":"C3","day":28,"vol":150},{"group":"CpG/aOX40","mouse":"C3","day":35,"vol":300},{"group":"CpG/aOX40","mouse":"C3","day":42,"vol":500},{"group":"CpG/aOX40","mouse":"C3","day":49,"vol":800},{"group":"CpG/aOX40","mouse":"C3","day":53,"vol":1000},{"group":"CpG/aOX40","mouse":"C3","day":56,"vol":1200},{"group":"CpG/aOX40","mouse":"C3","day":60,"vol":1500},{"group":"CpG/aOX40","mouse":"C3","day":63,"vol":1900},{"group":"CpG/aOX40","mouse":"C3","day":67,"vol":2300},{"group":"CpG/aOX40","mouse":"C3","day":70,"vol":2600},{"group":"CpG/aOX40","mouse":"C3","day":74,"vol":2900},{"group":"CpG/aOX40","mouse":"C3","day":77,"vol":3100},{"group":"CpG/aOX40","mouse":"C3","day":80,"vol":3300},
    {"group":"CpG/aOX40","mouse":"C4","day":0,"vol":40},{"group":"CpG/aOX40","mouse":"C4","day":7,"vol":50},{"group":"CpG/aOX40","mouse":"C4","day":14,"vol":80},{"group":"CpG/aOX40","mouse":"C4","day":21,"vol":120},{"group":"CpG/aOX40","mouse":"C4","day":28,"vol":200},{"group":"CpG/aOX40","mouse":"C4","day":35,"vol":350},{"group":"CpG/aOX40","mouse":"C4","day":40,"vol":450},
    {"group":"CpG/aOX40","mouse":"C5","day":0,"vol":60},{"group":"CpG/aOX40","mouse":"C5","day":7,"vol":30},{"group":"CpG/aOX40","mouse":"C5","day":14,"vol":10},{"group":"CpG/aOX40","mouse":"C5","day":21,"vol":0},{"group":"CpG/aOX40","mouse":"C5","day":28,"vol":0},{"group":"CpG/aOX40","mouse":"C5","day":35,"vol":0},{"group":"CpG/aOX40","mouse":"C5","day":42,"vol":0},{"group":"CpG/aOX40","mouse":"C5","day":49,"vol":0},{"group":"CpG/aOX40","mouse":"C5","day":56,"vol":0},{"group":"CpG/aOX40","mouse":"C5","day":63,"vol":0},{"group":"CpG/aOX40","mouse":"C5","day":70,"vol":0},{"group":"CpG/aOX40","mouse":"C5","day":77,"vol":0},{"group":"CpG/aOX40","mouse":"C5","day":81,"vol":0},
    {"group":"CpG/aOX40","mouse":"C6","day":0,"vol":40},{"group":"CpG/aOX40","mouse":"C6","day":4,"vol":30},{"group":"CpG/aOX40","mouse":"C6","day":11,"vol":10},{"group":"CpG/aOX40","mouse":"C6","day":18,"vol":0},{"group":"CpG/aOX40","mouse":"C6","day":25,"vol":0},{"group":"CpG/aOX40","mouse":"C6","day":32,"vol":0},{"group":"CpG/aOX40","mouse":"C6","day":39,"vol":0},{"group":"CpG/aOX40","mouse":"C6","day":46,"vol":0},{"group":"CpG/aOX40","mouse":"C6","day":53,"vol":0},{"group":"CpG/aOX40","mouse":"C6","day":60,"vol":0},{"group":"CpG/aOX40","mouse":"C6","day":67,"vol":0},{"group":"CpG/aOX40","mouse":"C6","day":74,"vol":0},{"group":"CpG/aOX40","mouse":"C6","day":80,"vol":0},
    {"group":"Triple","mouse":"P1","day":0,"vol":200},{"group":"Triple","mouse":"P1","day":3,"vol":250},{"group":"Triple","mouse":"P1","day":7,"vol":150},{"group":"Triple","mouse":"P1","day":10,"vol":100},{"group":"Triple","mouse":"P1","day":14,"vol":80},{"group":"Triple","mouse":"P1","day":17,"vol":60},{"group":"Triple","mouse":"P1","day":21,"vol":50},{"group":"Triple","mouse":"P1","day":24,"vol":60},{"group":"Triple","mouse":"P1","day":28,"vol":100},{"group":"Triple","mouse":"P1","day":31,"vol":150},{"group":"Triple","mouse":"P1","day":35,"vol":250},{"group":"Triple","mouse":"P1","day":38,"vol":280},{"group":"Triple","mouse":"P1","day":42,"vol":400},{"group":"Triple","mouse":"P1","day":45,"vol":550},{"group":"Triple","mouse":"P1","day":49,"vol":500},{"group":"Triple","mouse":"P1","day":52,"vol":700},{"group":"Triple","mouse":"P1","day":56,"vol":1000},{"group":"Triple","mouse":"P1","day":59,"vol":1700},{"group":"Triple","mouse":"P1","day":63,"vol":2400},
    {"group":"Triple","mouse":"P2","day":0,"vol":150},{"group":"Triple","mouse":"P2","day":3,"vol":120},{"group":"Triple","mouse":"P2","day":7,"vol":80},{"group":"Triple","mouse":"P2","day":10,"vol":60},{"group":"Triple","mouse":"P2","day":14,"vol":50},{"group":"Triple","mouse":"P2","day":17,"vol":40},{"group":"Triple","mouse":"P2","day":21,"vol":40},{"group":"Triple","mouse":"P2","day":24,"vol":60},{"group":"Triple","mouse":"P2","day":28,"vol":100},{"group":"Triple","mouse":"P2","day":31,"vol":150},{"group":"Triple","mouse":"P2","day":35,"vol":200},{"group":"Triple","mouse":"P2","day":38,"vol":250},{"group":"Triple","mouse":"P2","day":42,"vol":350},{"group":"Triple","mouse":"P2","day":45,"vol":500},{"group":"Triple","mouse":"P2","day":49,"vol":800},{"group":"Triple","mouse":"P2","day":52,"vol":800},{"group":"Triple","mouse":"P2","day":56,"vol":800},{"group":"Triple","mouse":"P2","day":59,"vol":1300},{"group":"Triple","mouse":"P2","day":63,"vol":1900},{"group":"Triple","mouse":"P2","day":66,"vol":2200},{"group":"Triple","mouse":"P2","day":70,"vol":2350},{"group":"Triple","mouse":"P2","day":73,"vol":2400},
    {"group":"Triple","mouse":"P3","day":0,"vol":120},{"group":"Triple","mouse":"P3","day":3,"vol":80},{"group":"Triple","mouse":"P3","day":7,"vol":40},{"group":"Triple","mouse":"P3","day":10,"vol":20},{"group":"Triple","mouse":"P3","day":14,"vol":10},{"group":"Triple","mouse":"P3","day":21,"vol":0},{"group":"Triple","mouse":"P3","day":28,"vol":0},{"group":"Triple","mouse":"P3","day":35,"vol":0},{"group":"Triple","mouse":"P3","day":42,"vol":0},{"group":"Triple","mouse":"P3","day":49,"vol":0},{"group":"Triple","mouse":"P3","day":56,"vol":0},{"group":"Triple","mouse":"P3","day":63,"vol":0},{"group":"Triple","mouse":"P3","day":70,"vol":0},{"group":"Triple","mouse":"P3","day":77,"vol":0},{"group":"Triple","mouse":"P3","day":81,"vol":0},
    {"group":"Triple","mouse":"P4","day":0,"vol":90},{"group":"Triple","mouse":"P4","day":3,"vol":60},{"group":"Triple","mouse":"P4","day":7,"vol":30},{"group":"Triple","mouse":"P4","day":10,"vol":10},{"group":"Triple","mouse":"P4","day":17,"vol":0},{"group":"Triple","mouse":"P4","day":24,"vol":0},{"group":"Triple","mouse":"P4","day":31,"vol":0},{"group":"Triple","mouse":"P4","day":38,"vol":0},{"group":"Triple","mouse":"P4","day":45,"vol":0},{"group":"Triple","mouse":"P4","day":52,"vol":0},{"group":"Triple","mouse":"P4","day":59,"vol":0},{"group":"Triple","mouse":"P4","day":66,"vol":0},{"group":"Triple","mouse":"P4","day":73,"vol":0},{"group":"Triple","mouse":"P4","day":80,"vol":0}
  ]
},
"vconcat": [
 {"resolve": {"scale": {"color": "independent", "shape": "independent", "fill": "independent", "stroke": "independent", "xOffset": "independent"}, "legend": {"color": "independent", "shape": "independent", "fill": "independent", "stroke": "independent"}},
  "spacing": 42,
  "vconcat": [
 {"resolve": {"scale": {"color": "independent", "shape": "independent", "fill": "independent", "stroke": "independent", "xOffset": "independent"}, "legend": {"color": "independent", "shape": "independent", "fill": "independent", "stroke": "independent"}},
  "spacing": 24,
  "vconcat": [
  {"resolve": {"scale": {"color": "independent", "shape": "independent", "fill": "independent", "stroke": "independent", "xOffset": "independent"}, "legend": {"color": "independent", "shape": "independent", "fill": "independent", "stroke": "independent"}},
   "spacing": 13,
   "vconcat": [
  {"resolve": {"scale": {"color": "independent", "shape": "independent", "fill": "independent", "stroke": "independent", "xOffset": "independent"}, "legend": {"color": "independent", "shape": "independent", "fill": "independent", "stroke": "independent"}},
   "spacing": 69,
   "hconcat": [
   {"resolve": {"scale": {"color": "independent", "shape": "independent", "fill": "independent", "stroke": "independent", "xOffset": "independent"}, "legend": {"color": "independent", "shape": "independent", "fill": "independent", "stroke": "independent"}},
    "spacing": 32,
    "hconcat": [
    {"title": {"text": "a", "orient": "top", "anchor": "start", "frame": "bounds", "fontSize": 18, "fontWeight": "bold", "color": "black", "baseline": "top", "offset": -14},
     "resolve": {"scale": {"color": "independent", "fill": "independent", "stroke": "independent", "xOffset": "independent"}, "legend": {"color": "independent", "fill": "independent", "stroke": "independent"}},
     "spacing": 28,
     "hconcat": [
      {"data": {"name": "hist"},
       "title": {"text": "Singlets/Live/CD45-,EpCAM+", "fontSize": 9.5, "offset": 6},
       "facet": {"row": {"field": "sample", "type": "nominal", "sort": ["Saline", "CpG"], "header": {"title": "% of Max", "titleOrient": "left", "titleFontSize": 8.5, "titleFontWeight": "normal", "titlePadding": 0, "labelOrient": "right", "labelAngle": 0, "labelFontSize": 8.5, "labelPadding": 3}}},
       "spacing": 0,
       "spec": {
         "width": 109, "height": 54,
         "view": {"stroke": "#111", "strokeWidth": 1.2},
         "layer": [
           {"mark": {"type": "area", "opacity": 1},
            "encoding": {
              "x": {"field": "mhc", "type": "quantitative", "scale": {"domain": [0, 100]}, "axis": {"values": [23, 71, 91.4], "labelExpr": "datum.value < 50 ? '0' : (datum.value < 80 ? '10⁴' : '10⁵')", "title": "MHC-I (PE)", "domain": false}},
              "y": {"field": "pct", "type": "quantitative", "scale": {"domain": [0, 110]}, "axis": null},
              "fill": {"field": "sample", "type": "nominal", "scale": {"domain": ["Saline", "CpG"], "range": ["#a8a8a8", "#fbd0e1"]}, "legend": null}}},
           {"mark": {"type": "line", "strokeWidth": 1.2},
            "encoding": {
              "x": {"field": "mhc", "type": "quantitative"},
              "y": {"field": "pct", "type": "quantitative"},
              "stroke": {"field": "sample", "type": "nominal", "scale": {"domain": ["Saline", "CpG"], "range": ["#555555", "#ff2a85"]}, "legend": null}}}
         ]
       }
      },
      {"width": 54, "height": 79,
       "title": {"text": "EpCAM+ MHC-I", "fontSize": 9.5, "offset": 14},
       "layer": [
         {"data": {"name": "mhc"}, "mark": {"type": "point", "filled": true, "size": 28, "opacity": 1},
          "encoding": {
            "x": {"field": "group", "type": "nominal", "scale": {"domain": ["Saline", "m", "CpG"], "paddingInner": 0, "paddingOuter": 0.42, "align": 0.25}, "axis": {"labelAngle": -45, "title": null, "ticks": false, "labelExpr": "datum.value == 'm' ? '' : datum.label"}},
            "xOffset": {"field": "rep", "type": "nominal", "scale": {"domain": [1, 2, 3, 4, 5], "range": [-2, 16]}},
            "y": {"field": "gmfi", "type": "quantitative", "title": "GMFI", "scale": {"domain": [0, 4000, 12000, 16000], "range": [79, 29, 21, 0]}, "axis": {"values": [0, 2000, 4000, 12000, 16000], "labelBaseline": {"condition": {"test": "datum.value == 12000", "value": "bottom"}, "value": "middle"}}},
            "color": {"field": "group", "type": "nominal", "scale": {"domain": ["Saline", "CpG"], "range": ["#a6a6a6", "#f72c70"]}, "legend": null}}},
         {"data": {"name": "mhc"}, "mark": {"type": "tick", "color": "#111", "thickness": 1.6, "size": 18},
          "encoding": {"x": {"field": "group", "type": "nominal"}, "y": {"aggregate": "median", "field": "gmfi", "type": "quantitative", "title": "GMFI"}}},
         {"data": {"values": [{"from": "Saline", "to": "CpG", "y": 15500}]}, "mark": {"type": "rule", "strokeWidth": 1.2, "color": "#111"},
          "encoding": {"x": {"field": "from", "type": "nominal"}, "x2": {"field": "to"}, "y": {"field": "y", "type": "quantitative", "title": "GMFI"}}},
         {"data": {"values": [{"mid": "m", "y": 15500, "label": "p=0.05"}]}, "mark": {"type": "text", "fontSize": 7.5, "baseline": "bottom", "dy": -2, "color": "#333"},
          "encoding": {"x": {"field": "mid", "type": "nominal"}, "y": {"field": "y", "type": "quantitative", "title": "GMFI"}, "text": {"field": "label"}}}
       ]
      }
     ]
    },
    {"title": {"text": "b", "orient": "top", "anchor": "start", "frame": "bounds", "fontSize": 18, "fontWeight": "bold", "color": "black", "baseline": "top", "offset": -14},
     "hconcat": [
      {"width": 122, "height": 75,
       "title": {"text": "MTB/TOM (MYC-ON)", "offset": 10},
       "layer": [
         {"data": {"name": "surv"}, "transform": [{"filter": "datum.panel == 'b'"}],
          "mark": {"type": "line", "interpolate": "step-after", "strokeWidth": 1.5},
          "encoding": {
            "x": {"field": "day", "type": "quantitative", "title": "Days Since Treatment Initiated", "scale": {"domain": [0, 80]}, "axis": {"values": [0, 20, 40, 60, 80]}},
            "y": {"field": "surv", "type": "quantitative", "title": "Survival (%)", "scale": {"domain": [0, 100]}, "axis": {"values": [0, 50, 100]}},
            "color": {"field": "group", "type": "nominal", "scale": {"domain": ["Isotype", "CpG/aOX40"], "range": ["#9d9d9d", "#2ec5f4"]}, "legend": {"orient": "none", "legendX": 64, "legendY": -8, "title": null, "symbolType": "stroke", "symbolStrokeWidth": 2, "labelFontSize": 8.5, "symbolSize": 120, "rowPadding": 3}}}},
         {"data": {"name": "ptext"}, "transform": [{"filter": "datum.panel == 'b'"}],
          "mark": {"type": "text", "align": "left", "fontSize": 7.5, "color": "#444"},
          "encoding": {"x": {"field": "day", "type": "quantitative", "title": "Days Since Treatment Initiated"}, "y": {"field": "surv", "type": "quantitative", "title": "Survival (%)"}, "text": {"field": "label"}}}
       ]
      }
     ]
    }
    ]},
    {"title": {"text": "c", "orient": "top", "anchor": "start", "frame": "bounds", "fontSize": 18, "fontWeight": "bold", "color": "black", "baseline": "top", "offset": -14},
     "hconcat": [
      {"width": 78, "height": 82,
       "title": {"text": "MTB/TOM (MYC-ON)", "offset": 12},
       "layer": [
         {"data": {"name": "tv"}, "mark": {"type": "errorbar", "ticks": {"size": 6}, "thickness": 1.3},
          "encoding": {
            "x": {"field": "day", "type": "ordinal", "scale": {"type": "point", "padding": 0.5}, "axis": {"title": ["Day:", "Rx:"], "titleX": -6, "titleY": 5, "titleAlign": "right", "titleBaseline": "top", "titleAngle": 0, "titleLineHeight": 15, "titleFontSize": 8.5, "labelExpr": "datum.value <= 5 ? [datum.label, '↑'] : datum.label", "labelLineHeight": 15, "labelAngle": 0, "ticks": false, "labelPadding": 5, "labelBaseline": "top", "labelFontSize": 8.5}},
            "y": {"field": "lo", "type": "quantitative", "title": "Tumor Volume (mm³)", "scale": {"domain": [0, 300]}, "axis": {"values": [0, 100, 200, 300]}},
            "y2": {"field": "hi"},
            "color": {"field": "group", "type": "nominal", "scale": {"domain": ["Isotype", "CpG", "aOX40", "CpG/aOX40"], "range": ["#9b9b9b", "#f7306f", "#2041f2", "#22c3f3"]}, "legend": {"orient": "right", "title": null, "offset": 26, "rowPadding": 6, "labelFontSize": 8.5, "symbolSize": 30}}}},
         {"data": {"name": "tv"}, "mark": {"type": "line", "strokeWidth": 1.5},
          "encoding": {"x": {"field": "day", "type": "ordinal"}, "y": {"field": "mean", "type": "quantitative", "title": "Tumor Volume (mm³)"}, "color": {"field": "group", "type": "nominal", "legend": {"orient": "right", "title": null, "offset": 26, "rowPadding": 6, "labelFontSize": 8.5, "symbolSize": 30}}}},
         {"data": {"name": "tv"}, "mark": {"type": "point", "filled": true, "size": 22, "opacity": 1},
          "encoding": {"x": {"field": "day", "type": "ordinal"}, "y": {"field": "mean", "type": "quantitative", "title": "Tumor Volume (mm³)"},
            "color": {"field": "group", "type": "nominal", "legend": {"orient": "right", "title": null, "offset": 26, "rowPadding": 6, "labelFontSize": 8.5, "symbolSize": 30}},
            "shape": {"field": "group", "type": "nominal", "scale": {"domain": ["Isotype", "CpG", "aOX40", "CpG/aOX40"], "range": ["triangle-down", "circle", "square", "triangle-up"]}, "legend": {"orient": "right", "title": null, "offset": 26, "rowPadding": 6, "labelFontSize": 8.5, "symbolSize": 30}}}},
         {"data": {"values": [{"day": 10, "lo": 68, "hi": 205}]}, "mark": {"type": "rule", "xOffset": 13, "strokeWidth": 1.2, "color": "#111"},
          "encoding": {"x": {"field": "day", "type": "ordinal"}, "y": {"field": "lo", "type": "quantitative", "title": "Tumor Volume (mm³)"}, "y2": {"field": "hi"}}},
         {"data": {"values": [{"day": 10, "lo": 68, "hi": 205}]}, "transform": [{"fold": ["lo", "hi"], "as": ["end", "yv"]}], "mark": {"type": "rule", "xOffset": 8, "x2Offset": 13, "strokeWidth": 1.2, "color": "#111"},
          "encoding": {"x": {"field": "day", "type": "ordinal"}, "x2": {"field": "day"}, "y": {"field": "yv", "type": "quantitative", "title": "Tumor Volume (mm³)"}}},
         {"data": {"values": [{"day": 10, "mid": 136, "label": "p=0.048"}]}, "mark": {"type": "text", "angle": 90, "xOffset": 19, "fontSize": 7.5, "color": "#333", "baseline": "middle", "align": "center"},
          "encoding": {"x": {"field": "day", "type": "ordinal"}, "y": {"field": "mid", "type": "quantitative", "title": "Tumor Volume (mm³)"}, "text": {"field": "label"}}}
       ]
      }
     ]
    }
  ]},
  {"resolve": {"scale": {"color": "independent", "shape": "independent", "xOffset": "independent"}, "legend": {"color": "independent", "shape": "independent"}},
   "spacing": 49,
   "hconcat": [
   {"resolve": {"scale": {"color": "independent", "shape": "independent", "xOffset": "independent"}, "legend": {"color": "independent", "shape": "independent"}},
    "spacing": 55,
    "hconcat": [
   {"resolve": {"scale": {"color": "independent", "shape": "independent", "xOffset": "independent"}, "legend": {"color": "independent", "shape": "independent"}},
    "spacing": 61,
    "hconcat": [
    {"title": {"text": "d", "orient": "top", "anchor": "start", "frame": "bounds", "fontSize": 18, "fontWeight": "bold", "color": "black", "baseline": "top", "offset": -14},
     "hconcat": [
      {"width": 94, "height": 89, "title": {"text": "T cells (TCRβ+,CD45+)"},
       "layer": [
         {"data": {"name": "dots"}, "transform": [{"filter": "datum.panel == 'd'"}], "mark": {"type": "point", "filled": true, "size": 24, "opacity": 1},
          "encoding": {
            "x": {"field": "group", "type": "nominal", "scale": {"domain": ["Isotype", "m1", "CpG", "m2", "aOX40", "m3", "CpG/aOX40"], "paddingInner": 0, "paddingOuter": 1.15, "align": 0.63}, "axis": {"labels": false, "ticks": false, "title": null}},
            "xOffset": {"field": "rep", "type": "nominal", "scale": {"domain": [1, 2, 3, 4, 5, 6, 7, 8, 9], "range": [-4, 14]}},
            "y": {"field": "value", "type": "quantitative", "title": "% Live", "scale": {"domain": [0, 100]}, "axis": {"values": [0, 20, 40, 60, 80, 100], "titlePadding": 35}},
            "color": {"field": "group", "type": "nominal", "scale": {"domain": ["Isotype", "CpG", "aOX40", "CpG/aOX40"], "range": ["#9b9b9b", "#f7306f", "#2041f2", "#22c3f3"]}, "legend": null},
            "shape": {"field": "group", "type": "nominal", "scale": {"domain": ["Isotype", "CpG", "aOX40", "CpG/aOX40"], "range": ["triangle-down", "circle", "square", "triangle-up"]}, "legend": null}}},
         {"data": {"name": "dots"}, "transform": [{"filter": "datum.panel == 'd'"}], "mark": {"type": "tick", "thickness": 1.5, "size": 17},
          "encoding": {"x": {"field": "group", "type": "nominal"}, "y": {"aggregate": "mean", "field": "value", "type": "quantitative", "title": "% Live"}, "color": {"field": "group", "type": "nominal", "legend": null}}},
         {"data": {"name": "dots"}, "transform": [{"filter": "datum.panel == 'd'"}], "mark": {"type": "errorbar", "extent": "stderr", "ticks": {"size": 9}, "thickness": 1.4},
          "encoding": {"x": {"field": "group", "type": "nominal"}, "y": {"field": "value", "type": "quantitative", "title": "% Live"}, "color": {"field": "group", "type": "nominal", "legend": null}}},
         {"data": {"name": "brackets"}, "transform": [{"filter": "datum.panel == 'd'"}], "mark": {"type": "rule", "strokeWidth": 1.3, "color": "#222"},
          "encoding": {"x": {"field": "from", "type": "nominal"}, "x2": {"field": "to"}, "y": {"field": "y", "type": "quantitative", "title": "% Live"}}},
         {"data": {"name": "brackets"}, "transform": [{"filter": "datum.panel == 'd'"}, {"fold": ["from", "to"], "as": ["end", "grp"]}], "mark": {"type": "rule", "strokeWidth": 1.3, "color": "#222", "yOffset": -3, "y2Offset": 3},
          "encoding": {"x": {"field": "grp", "type": "nominal"}, "y": {"field": "y", "type": "quantitative", "title": "% Live"}, "y2": {"field": "y"}}},
         {"data": {"name": "brackets"}, "transform": [{"filter": "datum.panel == 'd'"}], "mark": {"type": "text", "fontSize": 7.5, "baseline": "bottom", "dy": -2, "color": "#333"},
          "encoding": {"x": {"field": "mid", "type": "nominal"}, "y": {"field": "y", "type": "quantitative", "title": "% Live"}, "text": {"field": "label"}}}
       ]
      }
     ]
    },
    {"title": {"text": "e", "orient": "top", "anchor": "start", "frame": "bounds", "fontSize": 18, "fontWeight": "bold", "color": "black", "baseline": "top", "offset": -14},
     "hconcat": [
      {"width": 90, "height": 89, "title": {"text": "Tregs (CD25+, FoxP3+)", "offset": 7},
       "layer": [
         {"data": {"name": "dots"}, "transform": [{"filter": "datum.panel == 'e'"}], "mark": {"type": "point", "filled": true, "size": 24, "opacity": 1},
          "encoding": {
            "x": {"field": "group", "type": "nominal", "scale": {"domain": ["Isotype", "m1", "CpG", "m2", "aOX40", "m3", "CpG/aOX40"], "paddingInner": 0, "paddingOuter": 1.15, "align": 0.63}, "axis": {"labels": false, "ticks": false, "title": null}},
            "xOffset": {"field": "rep", "type": "nominal", "scale": {"domain": [1, 2, 3, 4, 5, 6, 7, 8, 9], "range": [-4, 14]}},
            "y": {"field": "value", "type": "quantitative", "title": "% CD4+ T cells", "scale": {"domain": [0, 50]}, "axis": {"values": [0, 10, 20, 30, 40, 50]}},
            "color": {"field": "group", "type": "nominal", "scale": {"domain": ["Isotype", "CpG", "aOX40", "CpG/aOX40"], "range": ["#9b9b9b", "#f7306f", "#2041f2", "#22c3f3"]}, "legend": null},
            "shape": {"field": "group", "type": "nominal", "scale": {"domain": ["Isotype", "CpG", "aOX40", "CpG/aOX40"], "range": ["triangle-down", "circle", "square", "triangle-up"]}, "legend": null}}},
         {"data": {"name": "dots"}, "transform": [{"filter": "datum.panel == 'e'"}], "mark": {"type": "tick", "thickness": 1.5, "size": 17},
          "encoding": {"x": {"field": "group", "type": "nominal"}, "y": {"aggregate": "mean", "field": "value", "type": "quantitative", "title": "% CD4+ T cells"}, "color": {"field": "group", "type": "nominal", "legend": null}}},
         {"data": {"name": "dots"}, "transform": [{"filter": "datum.panel == 'e'"}], "mark": {"type": "errorbar", "extent": "stderr", "ticks": {"size": 9}, "thickness": 1.4},
          "encoding": {"x": {"field": "group", "type": "nominal"}, "y": {"field": "value", "type": "quantitative", "title": "% CD4+ T cells"}, "color": {"field": "group", "type": "nominal", "legend": null}}},
         {"data": {"name": "brackets"}, "transform": [{"filter": "datum.panel == 'e'"}], "mark": {"type": "rule", "strokeWidth": 1.3, "color": "#222"},
          "encoding": {"x": {"field": "from", "type": "nominal"}, "x2": {"field": "to"}, "y": {"field": "y", "type": "quantitative", "title": "% CD4+ T cells"}}},
         {"data": {"name": "brackets"}, "transform": [{"filter": "datum.panel == 'e'"}, {"fold": ["from", "to"], "as": ["end", "grp"]}], "mark": {"type": "rule", "strokeWidth": 1.3, "color": "#222", "yOffset": -3, "y2Offset": 3},
          "encoding": {"x": {"field": "grp", "type": "nominal"}, "y": {"field": "y", "type": "quantitative", "title": "% CD4+ T cells"}, "y2": {"field": "y"}}},
         {"data": {"name": "brackets"}, "transform": [{"filter": "datum.panel == 'e'"}], "mark": {"type": "text", "fontSize": 7.5, "baseline": "bottom", "dy": -2, "color": "#333"},
          "encoding": {"x": {"field": "mid", "type": "nominal"}, "y": {"field": "y", "type": "quantitative", "title": "% CD4+ T cells"}, "text": {"field": "label"}}}
       ]
      }
     ]
    }
    ]},
    {"title": {"text": "f", "orient": "top", "anchor": "start", "frame": "bounds", "fontSize": 18, "fontWeight": "bold", "color": "black", "baseline": "top", "offset": -14},
     "hconcat": [
      {"width": 88, "height": 89, "title": {"text": "CD8:Treg", "offset": 2},
       "layer": [
         {"data": {"name": "dots"}, "transform": [{"filter": "datum.panel == 'f'"}], "mark": {"type": "point", "filled": true, "size": 24, "opacity": 1},
          "encoding": {
            "x": {"field": "group", "type": "nominal", "scale": {"domain": ["Isotype", "m1", "CpG", "m2", "aOX40", "m3", "CpG/aOX40"], "paddingInner": 0, "paddingOuter": 1.15, "align": 0.63}, "axis": {"labels": false, "ticks": false, "title": null}},
            "xOffset": {"field": "rep", "type": "nominal", "scale": {"domain": [1, 2, 3, 4, 5, 6, 7, 8, 9], "range": [-4, 14]}},
            "y": {"field": "value", "type": "quantitative", "title": "Ratio", "scale": {"domain": [0, 200]}, "axis": {"values": [0, 50, 100, 150, 200]}},
            "color": {"field": "group", "type": "nominal", "scale": {"domain": ["Isotype", "CpG", "aOX40", "CpG/aOX40"], "range": ["#9b9b9b", "#f7306f", "#2041f2", "#22c3f3"]}, "legend": null},
            "shape": {"field": "group", "type": "nominal", "scale": {"domain": ["Isotype", "CpG", "aOX40", "CpG/aOX40"], "range": ["triangle-down", "circle", "square", "triangle-up"]}, "legend": null}}},
         {"data": {"name": "dots"}, "transform": [{"filter": "datum.panel == 'f'"}], "mark": {"type": "tick", "thickness": 1.5, "size": 17},
          "encoding": {"x": {"field": "group", "type": "nominal"}, "y": {"aggregate": "mean", "field": "value", "type": "quantitative", "title": "Ratio"}, "color": {"field": "group", "type": "nominal", "legend": null}}},
         {"data": {"name": "dots"}, "transform": [{"filter": "datum.panel == 'f'"}], "mark": {"type": "errorbar", "extent": "stderr", "ticks": {"size": 9}, "thickness": 1.4},
          "encoding": {"x": {"field": "group", "type": "nominal"}, "y": {"field": "value", "type": "quantitative", "title": "Ratio"}, "color": {"field": "group", "type": "nominal", "legend": null}}},
         {"data": {"name": "brackets"}, "transform": [{"filter": "datum.panel == 'f'"}], "mark": {"type": "rule", "strokeWidth": 1.3, "color": "#222"},
          "encoding": {"x": {"field": "from", "type": "nominal"}, "x2": {"field": "to"}, "y": {"field": "y", "type": "quantitative", "title": "Ratio"}}},
         {"data": {"name": "brackets"}, "transform": [{"filter": "datum.panel == 'f'"}, {"fold": ["from", "to"], "as": ["end", "grp"]}], "mark": {"type": "rule", "strokeWidth": 1.3, "color": "#222", "yOffset": -3, "y2Offset": 3},
          "encoding": {"x": {"field": "grp", "type": "nominal"}, "y": {"field": "y", "type": "quantitative", "title": "Ratio"}, "y2": {"field": "y"}}},
         {"data": {"name": "brackets"}, "transform": [{"filter": "datum.panel == 'f'"}], "mark": {"type": "text", "fontSize": 7.5, "baseline": "bottom", "dy": -2, "color": "#333"},
          "encoding": {"x": {"field": "mid", "type": "nominal"}, "y": {"field": "y", "type": "quantitative", "title": "Ratio"}, "text": {"field": "label"}}}
       ]
      }
     ]
    }
    ]},
    {"title": {"text": "g", "orient": "top", "anchor": "start", "frame": "bounds", "fontSize": 18, "fontWeight": "bold", "color": "black", "baseline": "top", "offset": -14},
     "hconcat": [
      {"width": 94, "height": 89, "title": {"text": "Granzyme B (CD8+)", "offset": 8},
       "layer": [
         {"data": {"name": "dots"}, "transform": [{"filter": "datum.panel == 'g'"}], "mark": {"type": "point", "filled": true, "size": 24, "opacity": 1},
          "encoding": {
            "x": {"field": "group", "type": "nominal", "scale": {"domain": ["Isotype", "m1", "CpG", "m2", "aOX40", "m3", "CpG/aOX40"], "paddingInner": 0, "paddingOuter": 1.15, "align": 0.63}, "axis": {"labels": false, "ticks": false, "title": null}},
            "xOffset": {"field": "rep", "type": "nominal", "scale": {"domain": [1, 2, 3, 4, 5, 6, 7, 8, 9], "range": [-4, 14]}},
            "y": {"field": "value", "type": "quantitative", "title": "GMFI", "scale": {"domain": [0, 1500]}, "axis": {"values": [0, 500, 1000, 1500]}},
            "color": {"field": "group", "type": "nominal", "scale": {"domain": ["Isotype", "CpG", "aOX40", "CpG/aOX40"], "range": ["#9b9b9b", "#f7306f", "#2041f2", "#22c3f3"]}, "legend": {"orient": "right", "title": null, "offset": 22, "rowPadding": 6, "labelFontSize": 8.5, "symbolSize": 22}},
            "shape": {"field": "group", "type": "nominal", "scale": {"domain": ["Isotype", "CpG", "aOX40", "CpG/aOX40"], "range": ["triangle-down", "circle", "square", "triangle-up"]}, "legend": {"orient": "right", "title": null, "offset": 22, "rowPadding": 6, "labelFontSize": 8.5, "symbolSize": 22}}}},
         {"data": {"name": "dots"}, "transform": [{"filter": "datum.panel == 'g'"}], "mark": {"type": "tick", "thickness": 1.5, "size": 17},
          "encoding": {"x": {"field": "group", "type": "nominal"}, "y": {"aggregate": "mean", "field": "value", "type": "quantitative", "title": "GMFI"}, "color": {"field": "group", "type": "nominal"}}},
         {"data": {"name": "dots"}, "transform": [{"filter": "datum.panel == 'g'"}], "mark": {"type": "errorbar", "extent": "stderr", "ticks": {"size": 9}, "thickness": 1.4},
          "encoding": {"x": {"field": "group", "type": "nominal"}, "y": {"field": "value", "type": "quantitative", "title": "GMFI"}, "color": {"field": "group", "type": "nominal"}}},
         {"data": {"name": "brackets"}, "transform": [{"filter": "datum.panel == 'g'"}], "mark": {"type": "rule", "strokeWidth": 1.3, "color": "#222"},
          "encoding": {"x": {"field": "from", "type": "nominal"}, "x2": {"field": "to"}, "y": {"field": "y", "type": "quantitative", "title": "GMFI"}}},
         {"data": {"name": "brackets"}, "transform": [{"filter": "datum.panel == 'g'"}, {"fold": ["from", "to"], "as": ["end", "grp"]}], "mark": {"type": "rule", "strokeWidth": 1.3, "color": "#222", "yOffset": -3, "y2Offset": 3},
          "encoding": {"x": {"field": "grp", "type": "nominal"}, "y": {"field": "y", "type": "quantitative", "title": "GMFI"}, "y2": {"field": "y"}}},
         {"data": {"name": "brackets"}, "transform": [{"filter": "datum.panel == 'g'"}], "mark": {"type": "text", "fontSize": 7.5, "baseline": "bottom", "dy": -2, "color": "#333"},
          "encoding": {"x": {"field": "mid", "type": "nominal"}, "y": {"field": "y", "type": "quantitative", "title": "GMFI"}, "text": {"field": "label"}}}
       ]
      }
     ]
    }
  ]}
  ]},
  {"resolve": {"scale": {"color": "independent", "shape": "independent", "stroke": "independent", "xOffset": "independent"}, "legend": {"color": "independent", "shape": "independent", "stroke": "independent"}},
   "spacing": 42,
   "hconcat": [
    {"title": {"text": "h", "orient": "top", "anchor": "start", "frame": "bounds", "fontSize": 18, "fontWeight": "bold", "color": "black", "baseline": "top", "offset": -14},
     "spacing": 25,
     "hconcat": [
      {"width": 82, "height": 82, "title": {"text": "Isotypes"},
       "data": {"name": "spag"}, "transform": [{"filter": "datum.group == 'Isotypes'"}],
       "mark": {"type": "line", "strokeWidth": 1.3, "color": "#a0a0a0", "point": {"size": 6, "filled": true, "color": "#a0a0a0"}},
       "encoding": {"x": {"field": "day", "type": "quantitative", "title": "Days Since Treatment Initiated", "scale": {"domain": [0, 100]}, "axis": {"values": [0, 20, 40, 60, 80, 100]}},
         "y": {"field": "vol", "type": "quantitative", "title": "Tumor Volume (mm³)", "scale": {"domain": [0, 4000]}, "axis": {"values": [0, 1000, 2000, 3000, 4000], "titlePadding": 23}},
         "detail": {"field": "mouse", "type": "nominal"}}},
      {"width": 82, "height": 82, "title": {"text": "Anti-PD-L1"},
       "data": {"name": "spag"}, "transform": [{"filter": "datum.group == 'Anti-PD-L1'"}],
       "mark": {"type": "line", "strokeWidth": 1.3, "color": "#ff3010", "point": {"size": 6, "filled": true, "color": "#ff3010"}},
       "encoding": {"x": {"field": "day", "type": "quantitative", "title": "Days Since Treatment Initiated", "scale": {"domain": [0, 100]}, "axis": {"values": [0, 20, 40, 60, 80, 100]}},
         "y": {"field": "vol", "type": "quantitative", "title": "Tumor Volume (mm³)", "scale": {"domain": [0, 4000]}, "axis": {"values": [0, 1000, 2000, 3000, 4000]}},
         "detail": {"field": "mouse", "type": "nominal"}}},
      {"width": 82, "height": 82, "title": {"text": "CpG/aOX40"},
       "data": {"name": "spag"}, "transform": [{"filter": "datum.group == 'CpG/aOX40'"}],
       "mark": {"type": "line", "strokeWidth": 1.3, "color": "#22c3f3", "point": {"size": 6, "filled": true, "color": "#22c3f3"}},
       "encoding": {"x": {"field": "day", "type": "quantitative", "title": "Days Since Treatment Initiated", "scale": {"domain": [0, 100]}, "axis": {"values": [0, 20, 40, 60, 80, 100]}},
         "y": {"field": "vol", "type": "quantitative", "title": "Tumor Volume (mm³)", "scale": {"domain": [0, 4000]}, "axis": {"values": [0, 1000, 2000, 3000, 4000]}},
         "detail": {"field": "mouse", "type": "nominal"}}},
      {"width": 82, "height": 82, "title": {"text": ["Triple Combination", "CpG/aOX40 + Anti-PD-L1"]},
       "data": {"name": "spag"}, "transform": [{"filter": "datum.group == 'Triple'"}],
       "mark": {"type": "line", "strokeWidth": 1.3, "color": "#5b2d95", "point": {"size": 6, "filled": true, "color": "#5b2d95"}},
       "encoding": {"x": {"field": "day", "type": "quantitative", "title": "Days Since Treatment Initiated", "scale": {"domain": [0, 100]}, "axis": {"values": [0, 20, 40, 60, 80, 100]}},
         "y": {"field": "vol", "type": "quantitative", "title": "Tumor Volume (mm³)", "scale": {"domain": [0, 3000]}, "axis": {"values": [0, 1000, 2000, 3000]}},
         "detail": {"field": "mouse", "type": "nominal"}}}
     ]
    },
    {"title": {"text": "i", "orient": "top", "anchor": "start", "frame": "bounds", "fontSize": 18, "fontWeight": "bold", "color": "black", "baseline": "top", "offset": -14},
     "hconcat": [
      {"width": 82, "height": 82, "title": {"text": "Last day of Treatment", "offset": 8, "fontSize": 8.8},
       "layer": [
         {"data": {"name": "last"}, "mark": {"type": "bar", "width": 12, "fill": "transparent", "strokeWidth": 1.5},
          "encoding": {
            "x": {"field": "group", "type": "nominal", "scale": {"domain": ["Isotype", "m1", "Anti-PD-L1", "m2", "CpG/aOX40", "m3", "Triple"], "paddingInner": 0, "paddingOuter": 0.7, "align": 0.5}, "axis": {"labels": false, "ticks": false, "title": null}},
            "y": {"aggregate": "mean", "field": "vol", "type": "quantitative", "title": "Tumor Volume (mm³)", "scale": {"domain": [0, 2000]}, "axis": {"values": [0, 500, 1000, 1500, 2000]}},
            "stroke": {"field": "group", "type": "nominal", "scale": {"domain": ["Isotype", "Anti-PD-L1", "CpG/aOX40", "Triple"], "range": ["#9b9b9b", "#ff3010", "#7fd4f7", "#5b2d95"]}, "legend": null}}},
         {"data": {"name": "last"}, "mark": {"type": "point", "filled": true, "size": 20, "opacity": 1},
          "encoding": {
            "x": {"field": "group", "type": "nominal"},
            "xOffset": {"field": "rep", "type": "nominal", "scale": {"domain": [1, 2, 3, 4, 5], "range": [-3, 14]}},
            "y": {"field": "vol", "type": "quantitative", "title": "Tumor Volume (mm³)"},
            "color": {"field": "group", "type": "nominal", "scale": {"domain": ["Isotype", "Anti-PD-L1", "CpG/aOX40", "Triple"], "range": ["#9b9b9b", "#ff3010", "#7fd4f7", "#5b2d95"]}, "legend": null},
            "shape": {"field": "group", "type": "nominal", "scale": {"domain": ["Isotype", "Anti-PD-L1", "CpG/aOX40", "Triple"], "range": ["triangle-down", "diamond", "triangle-up", "circle"]}, "legend": null}}},
         {"data": {"name": "last"}, "mark": {"type": "errorbar", "extent": "stderr", "ticks": {"size": 8}, "thickness": 1.4},
          "encoding": {"x": {"field": "group", "type": "nominal"}, "y": {"field": "vol", "type": "quantitative", "title": "Tumor Volume (mm³)"}, "color": {"field": "group", "type": "nominal", "legend": null}}},
         {"data": {"name": "brackets"}, "transform": [{"filter": "datum.panel == 'i'"}], "mark": {"type": "rule", "strokeWidth": 1.3, "color": "#222"},
          "encoding": {"x": {"field": "from", "type": "nominal"}, "x2": {"field": "to"}, "y": {"field": "y", "type": "quantitative", "title": "Tumor Volume (mm³)"}}},
         {"data": {"name": "brackets"}, "transform": [{"filter": "datum.panel == 'i'"}, {"fold": ["from", "to"], "as": ["end", "grp"]}], "mark": {"type": "rule", "strokeWidth": 1.3, "color": "#222", "yOffset": -3, "y2Offset": 3},
          "encoding": {"x": {"field": "grp", "type": "nominal"}, "y": {"field": "y", "type": "quantitative", "title": "Tumor Volume (mm³)"}, "y2": {"field": "y"}}},
         {"data": {"name": "brackets"}, "transform": [{"filter": "datum.panel == 'i'"}], "mark": {"type": "text", "fontSize": 7.5, "baseline": "bottom", "dy": -2, "color": "#333"},
          "encoding": {"x": {"field": "mid", "type": "nominal"}, "y": {"field": "y", "type": "quantitative", "title": "Tumor Volume (mm³)"}, "text": {"field": "label"}}}
       ]
      }
     ]
    }
  ]}
  ]
 },
  {"resolve": {"scale": {"color": "independent", "fill": "independent"}, "legend": {"color": "independent", "fill": "independent"}},
   "spacing": 0,
   "hconcat": [
   {"resolve": {"scale": {"color": "independent", "fill": "independent"}, "legend": {"color": "independent", "fill": "independent"}},
    "spacing": 5,
    "hconcat": [
   {"resolve": {"scale": {"color": "independent", "fill": "independent"}, "legend": {"color": "independent", "fill": "independent"}},
    "spacing": 12,
    "hconcat": [
    {"title": {"text": "j", "orient": "top", "anchor": "start", "frame": "bounds", "fontSize": 18, "fontWeight": "bold", "color": "black", "baseline": "top", "offset": -14},
     "hconcat": [
      {"width": 112, "height": 72, "title": {"text": "MTB/TOM (MYC-ON)", "offset": 18},
       "layer": [
         {"data": {"name": "surv"}, "transform": [{"filter": "datum.panel == 'j'"}], "mark": {"type": "line", "interpolate": "step-after", "strokeWidth": 1.5},
          "encoding": {"x": {"field": "day", "type": "quantitative", "title": "Days Since Treatment Initiated", "scale": {"domain": [0, 100]}, "axis": {"values": [0, 50, 100]}},
            "y": {"field": "surv", "type": "quantitative", "title": "Survival (%)", "scale": {"domain": [0, 100]}, "axis": {"values": [0, 50, 100]}},
            "color": {"field": "group", "type": "nominal", "scale": {"domain": ["Isotype control", "Anti-PD-L1", "CpG/aOX40", "Triple"], "range": ["#9b9b9b", "#ff3b1f", "#5fcff6", "#5b2d95"]}, "legend": null}}},
         {"data": {"name": "ptext"}, "transform": [{"filter": "datum.panel == 'j'"}], "mark": {"type": "text", "align": "left", "fontSize": 7.5},
          "encoding": {"x": {"field": "day", "type": "quantitative", "title": "Days Since Treatment Initiated"}, "y": {"field": "surv", "type": "quantitative", "title": "Survival (%)"}, "text": {"field": "label"}, "fill": {"field": "vs", "type": "nominal", "scale": {"domain": ["Isotype", "Anti-PD-L1"], "range": ["#333333", "#ff4a2e"]}, "legend": null}}}
       ]
      }
     ]
    },
    {"title": {"text": "k", "orient": "top", "anchor": "start", "frame": "bounds", "fontSize": 18, "fontWeight": "bold", "color": "black", "baseline": "top", "offset": -14},
     "hconcat": [
      {"width": 112, "height": 72, "title": {"text": "MC38-MYC", "offset": 18},
       "layer": [
         {"data": {"name": "surv"}, "transform": [{"filter": "datum.panel == 'k'"}], "mark": {"type": "line", "interpolate": "step-after", "strokeWidth": 1.5},
          "encoding": {"x": {"field": "day", "type": "quantitative", "title": "Days Since Treatment Initiated", "scale": {"domain": [0, 60]}, "axis": {"values": [0, 20, 40, 60]}},
            "y": {"field": "surv", "type": "quantitative", "title": "Survival (%)", "scale": {"domain": [0, 100]}, "axis": {"values": [0, 50, 100]}},
            "color": {"field": "group", "type": "nominal", "scale": {"domain": ["Isotype control", "Anti-PD-L1", "CpG/aOX40", "Triple"], "range": ["#9b9b9b", "#ff3b1f", "#5fcff6", "#5b2d95"]}, "legend": null}}},
         {"data": {"name": "ptext"}, "transform": [{"filter": "datum.panel == 'k'"}], "mark": {"type": "text", "align": "left", "fontSize": 7.5},
          "encoding": {"x": {"field": "day", "type": "quantitative", "title": "Days Since Treatment Initiated"}, "y": {"field": "surv", "type": "quantitative", "title": "Survival (%)"}, "text": {"field": "label"}, "fill": {"field": "vs", "type": "nominal", "scale": {"domain": ["Isotype", "Anti-PD-L1"], "range": ["#333333", "#ff4a2e"]}, "legend": null}}}
       ]
      }
     ]
    }
    ]},
    {"title": {"text": "l", "orient": "top", "anchor": "start", "frame": "bounds", "fontSize": 18, "fontWeight": "bold", "color": "black", "baseline": "top", "offset": -14},
     "hconcat": [
      {"width": 112, "height": 72, "title": {"text": "WAP-MYC", "offset": 18},
       "layer": [
         {"data": {"name": "surv"}, "transform": [{"filter": "datum.panel == 'l'"}], "mark": {"type": "line", "interpolate": "step-after", "strokeWidth": 1.5},
          "encoding": {"x": {"field": "day", "type": "quantitative", "title": "Days Since Treatment Initiated", "scale": {"domain": [15, 45]}, "axis": {"values": [15, 20, 25, 30, 35, 40, 45]}},
            "y": {"field": "surv", "type": "quantitative", "title": "Survival (%)", "scale": {"domain": [0, 100]}, "axis": {"values": [0, 50, 100]}},
            "color": {"field": "group", "type": "nominal", "scale": {"domain": ["Isotype control", "Anti-PD-L1", "CpG/aOX40", "Triple"], "range": ["#9b9b9b", "#ff3b1f", "#5fcff6", "#5b2d95"]}, "legend": {"orient": "right", "title": null, "symbolType": "stroke", "symbolStrokeWidth": 2, "symbolSize": 80, "labelFontSize": 7.8, "labelOffset": 3, "rowPadding": 5, "offset": 2, "labelExpr": "datum.label == 'Triple' ? ['Triple Combination', '(CpG/aOX40+Anti-PD-L1)'] : datum.label"}}}},
         {"data": {"name": "ptext"}, "transform": [{"filter": "datum.panel == 'l'"}], "mark": {"type": "text", "align": "left", "fontSize": 7.5},
          "encoding": {"x": {"field": "day", "type": "quantitative", "title": "Days Since Treatment Initiated"}, "y": {"field": "surv", "type": "quantitative", "title": "Survival (%)"}, "text": {"field": "label"}, "fill": {"field": "vs", "type": "nominal", "scale": {"domain": ["Isotype", "Anti-PD-L1"], "range": ["#333333", "#ff4a2e"]}, "legend": null}}}
       ]
      }
     ]
    }
    ]},
    {"title": {"text": "m", "orient": "top", "anchor": "start", "frame": "bounds", "fontSize": 18, "fontWeight": "bold", "color": "black", "baseline": "top", "offset": -14},
     "hconcat": [
      {"width": 112, "height": 72, "title": {"text": ["Disease Free Survival", "(Re-challenge)"], "offset": 8},
       "layer": [
         {"data": {"name": "surv"}, "transform": [{"filter": "datum.panel == 'm'"}], "mark": {"type": "line", "interpolate": "step-after", "strokeWidth": 1.6},
          "encoding": {"x": {"field": "day", "type": "quantitative", "title": "Days Since New Transplant", "scale": {"domain": [0, 80]}, "axis": {"values": [0, 20, 40, 60, 80]}},
            "y": {"field": "surv", "type": "quantitative", "title": "Survival (%)", "scale": {"domain": [0, 100]}, "axis": {"values": [0, 50, 100]}},
            "color": {"field": "group", "type": "nominal", "scale": {"domain": ["Naïve", "Responded"], "range": ["#333333", "#b48cf0"]}, "legend": {"orient": "none", "legendX": 60, "legendY": 26, "title": null, "symbolType": "stroke", "symbolStrokeWidth": 2, "symbolSize": 100, "labelFontSize": 8.5, "rowPadding": 3, "labelExpr": "datum.label == 'Responded' ? ['Responded', 'to Triple', 'Combination'] : datum.label"}}}},
         {"data": {"name": "ptext"}, "transform": [{"filter": "datum.panel == 'm'"}], "mark": {"type": "text", "align": "left", "fontSize": 7.5, "color": "#333"},
          "encoding": {"x": {"field": "day", "type": "quantitative", "title": "Days Since New Transplant"}, "y": {"field": "surv", "type": "quantitative", "title": "Survival (%)"}, "text": {"field": "label"}}}
       ]
      }
     ]
    }
  ]}
 ]}
]
}
